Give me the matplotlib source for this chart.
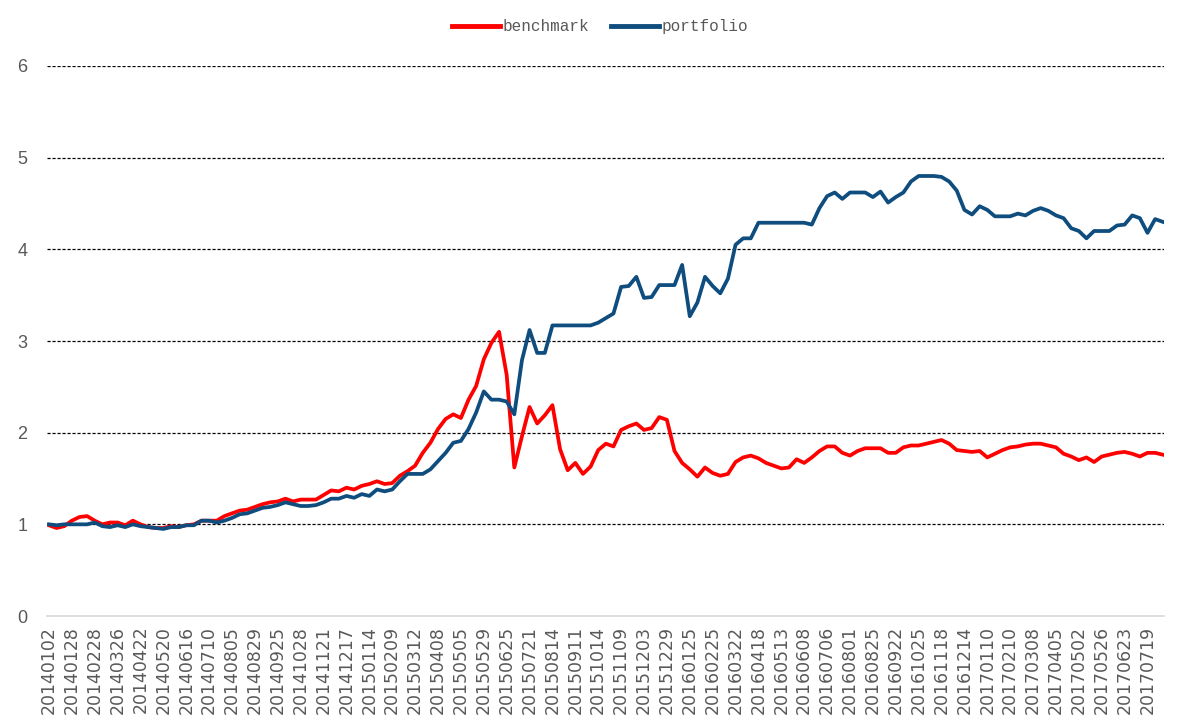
import numpy as np
import matplotlib
matplotlib.use("Agg")
import matplotlib.pyplot as plt

# tanggal label sumbu x (tiap 18 hari bursa)
date_labels = [
    "20140102", "20140128", "20140228", "20140326", "20140422", "20140520", "20140616",
    "20140710", "20140805", "20140829", "20140925", "20141028", "20141121", "20141217",
    "20150114", "20150209", "20150312", "20150408", "20150505", "20150529", "20150625",
    "20150721", "20150814", "20150911", "20151014", "20151109", "20151203", "20151229",
    "20160125", "20160225", "20160322", "20160418", "20160513", "20160608", "20160706",
    "20160801", "20160825", "20160922", "20161025", "20161118", "20161214", "20170110",
    "20170210", "20170308", "20170405", "20170502", "20170526", "20170623", "20170719",
]
label_every = 18   # hari bursa antar label
step = 6           # hari bursa antar titik data

# nilai, satu titik tiap 6 hari bursa
benchmark = [
    0.99, 0.96, 0.98, 1.04, 1.08, 1.09, 1.04, 1.00, 1.02, 1.02,
    0.99, 1.04, 1.00, 0.97, 0.96, 0.96, 0.98, 0.97, 0.99, 1.00,
    1.04, 1.04, 1.04, 1.09, 1.12, 1.15, 1.16, 1.19, 1.22, 1.24,
    1.25, 1.28, 1.25, 1.27, 1.27, 1.27, 1.32, 1.37, 1.36,
    1.40, 1.38, 1.42, 1.44, 1.47, 1.44, 1.45, 1.53, 1.58, 1.64,
    1.78, 1.89, 2.04, 2.15, 2.20, 2.16, 2.36, 2.51, 2.80, 2.98,
    3.10, 2.63,
    1.62, 1.96, 2.28, 2.10, 2.19, 2.30, 1.82, 1.59, 1.67, 1.55,
    1.63, 1.81, 1.88, 1.85, 2.03, 2.07, 2.10, 2.03, 2.05, 2.17,
    2.14,
    1.80, 1.67, 1.60, 1.52, 1.62, 1.56, 1.53, 1.55, 1.68, 1.73,
    1.75, 1.72, 1.67, 1.64, 1.61, 1.62, 1.71, 1.67, 1.73, 1.80,
    1.85, 1.85, 1.78, 1.75, 1.80, 1.83, 1.83, 1.83, 1.78, 1.78,
    1.84, 1.86, 1.86, 1.88, 1.90, 1.92, 1.88, 1.81, 1.80, 1.79,
    1.80, 1.73, 1.77, 1.81, 1.84, 1.85, 1.87, 1.88, 1.88, 1.86,
    1.84, 1.77, 1.74, 1.70, 1.73, 1.68, 1.74, 1.76, 1.78, 1.79,
    1.77, 1.74, 1.78, 1.78, 1.76,
]

portfolio = [
    1.00, 0.99, 1.00, 1.00, 1.00, 1.00, 1.02, 0.98, 0.97, 0.99,
    0.97, 1.00, 0.98, 0.97, 0.96, 0.95, 0.97, 0.97, 0.99, 0.99,
    1.04, 1.04, 1.02, 1.04, 1.07, 1.11, 1.12, 1.15, 1.18, 1.19,
    1.21, 1.24, 1.22, 1.20, 1.20, 1.21, 1.24, 1.28, 1.28,
    1.31, 1.29, 1.33, 1.31, 1.38, 1.36, 1.38, 1.47, 1.55, 1.55,
    1.55, 1.60, 1.69, 1.78, 1.89, 1.91, 2.04, 2.22, 2.45, 2.36,
    2.36, 2.34, 2.20,
    2.79, 3.12, 2.87, 2.87, 3.17, 3.17, 3.17, 3.17, 3.17, 3.17,
    3.20, 3.25, 3.30, 3.59, 3.60, 3.70, 3.47, 3.48, 3.61, 3.61,
    3.61, 3.83, 3.27, 3.42, 3.70, 3.60, 3.52, 3.68, 4.05, 4.12,
    4.12, 4.29, 4.29, 4.29, 4.29, 4.29, 4.29, 4.29, 4.27, 4.45,
    4.58, 4.62, 4.55, 4.62, 4.62, 4.62, 4.57, 4.63, 4.51, 4.57,
    4.62, 4.74, 4.80, 4.80, 4.80, 4.79, 4.74, 4.64, 4.43, 4.38,
    4.47, 4.43, 4.36, 4.36, 4.36, 4.39, 4.37, 4.42, 4.45, 4.42,
    4.37, 4.34, 4.23, 4.20, 4.12, 4.20, 4.20, 4.20, 4.26, 4.27,
    4.37, 4.34, 4.18, 4.33, 4.30,
]

x = np.arange(len(benchmark)) * step
tick_pos = np.arange(len(date_labels)) * label_every

fig = plt.figure(figsize=(11.79, 7.26), dpi=100)
ax = fig.add_axes([0.0399, 0.1515, 0.9474, 0.7576])

ax.plot(x, benchmark, color="#FF0000", lw=2.7, solid_joinstyle="round", label="benchmark", zorder=3)
ax.plot(x, portfolio, color="#0E4D7E", lw=2.7, solid_joinstyle="round", label="portfolio", zorder=4)

ax.set_ylim(0, 6)
ax.set_xlim(-1.5, 877)
ax.set_yticks(range(0, 7))
ax.set_xticks(tick_pos)
ax.set_xticklabels(date_labels, rotation=90, fontsize=12.5, color="#595959", family="DejaVu Sans")
for t in ax.get_yticklabels():
    t.set_fontsize(13)
    t.set_color("#595959")
    t.set_family("Liberation Sans")
ax.tick_params(axis="both", length=0)
ax.tick_params(axis="y", pad=14)
ax.tick_params(axis="x", pad=7)

# garis grid putus-putus
for v in range(1, 7):
    ax.axhline(v, color="black", lw=0.9, ls=(0, (2.5, 1.5)), zorder=1)

for s in ["top", "right", "left"]:
    ax.spines[s].set_visible(False)
ax.spines["bottom"].set_color("#d9d9d9")
ax.spines["bottom"].set_linewidth(1.2)

fig.legend(loc="center", bbox_to_anchor=(0.509, 0.963), ncol=2, frameon=False,
           prop={"family": "Liberation Mono", "size": 11.5},
           handlelength=3.0, handletextpad=0.15, columnspacing=1.4)
for t in fig.legends[0].get_texts():
    t.set_color("#595959")
for h in fig.legends[0].get_lines():
    h.set_linewidth(3.5)

fig.savefig("out.png", dpi=100)
